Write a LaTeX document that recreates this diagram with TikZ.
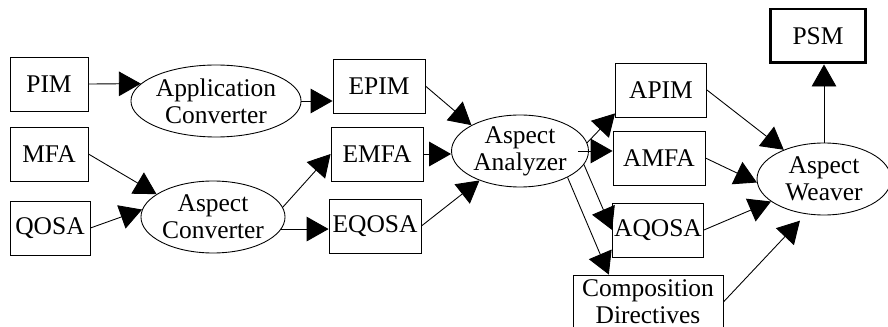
\documentclass[tikz,border=0pt]{standalone}
\usepackage{fontspec}
\setmainfont{Liberation Serif}
\usepackage{tikz}
\usetikzlibrary{shapes.geometric}
\usetikzlibrary{arrows.meta}

\begin{document}
\begin{tikzpicture}[x=0.02cm, y=-0.02cm,
        font=\fontsize{14.5}{15.3}\selectfont,
        model/.style={draw, rectangle, line width=0.5pt, inner sep=0pt, minimum width=1.84cm, minimum height=1.08cm, align=center},
        tool/.style={draw, ellipse, line width=0.5pt, inner sep=0pt, minimum width=2.74cm, minimum height=1.44cm, align=center},
        arr/.style={-{Triangle[length=12.5pt, width=14pt]}, line width=0.5pt}]
            \useasboundingbox (0,0) rectangle (888,327);

            \node[model, minimum width=1.56cm] (pim) at (49,84) {PIM};
            \node[model, minimum width=1.56cm] (mfa) at (49,154) {MFA};
            \node[model, minimum width=1.60cm] (qosa) at (50,228) {QOSA};
            \node[tool, minimum width=2.76cm] (appconv) at (216,101) {Application\\Converter};
            \node[tool, minimum width=2.70cm] (aspconv) at (213,217) {Aspect\\Converter};
            \node[model] (epim) at (379,86) {EPIM};
            \node[model] (emfa) at (377,154) {EMFA};
            \node[model] (eqosa) at (375,226) {EQOSA};
            \node[tool] (analyzer) at (520,151) {Aspect\\Analyzer};
            \node[model, minimum width=1.82cm] (apim) at (661,90) {APIM};
            \node[model] (amfa) at (659,158) {AMFA};
            \node[model, minimum width=1.82cm] (aqosa) at (658,230) {AQOSA};
            \node[model, minimum width=3.00cm] (compdir) at (648,302) {Composition\\Directives};
            \node[tool, minimum width=2.68cm] (weaver) at (824,179) {Aspect\\Weaver};
            \node[model, line width=1.7pt, minimum width=1.90cm] (psm) at (818,36) {PSM};

            \draw[arr] (pim.east) -- (appconv.167);
            \draw[arr] (appconv.east) -- (epim.west |- appconv.east);
            \draw[arr] (mfa.east) -- (aspconv.158);
            \draw[arr] (qosa.east) -- (aspconv.174);
            \draw[arr] (aspconv.8) -- (emfa.west);
            \draw[arr] (aspconv.-10) -- (eqosa.west |- aspconv.-10);
            \draw[arr] (epim.east) -- (analyzer.152);
            \draw[arr] (emfa.east) -- (analyzer.west |- emfa.east);
            \draw[arr] (eqosa.east) -- (analyzer.216);
            \draw[arr] (analyzer.7) -- (apim.207);
            \draw[arr] ([xshift=-0.22cm]analyzer.east) -- (amfa.west |- analyzer.east);
            \draw[arr] (analyzer.-12) -- (aqosa.west);
            \draw[arr] (analyzer.-29) -- (compdir.145);
            \draw[arr] (apim.east) -- (weaver.144);
            \draw[arr] (amfa.east) -- (weaver.183);
            \draw[arr] (aqosa.east) -- (weaver.203);
            \draw[arr, shorten >=0.18cm] (compdir.east) -- (weaver.243);
            \draw[arr] (weaver.north) -- (weaver.north |- psm.south);
        \end{tikzpicture}
\end{document}
